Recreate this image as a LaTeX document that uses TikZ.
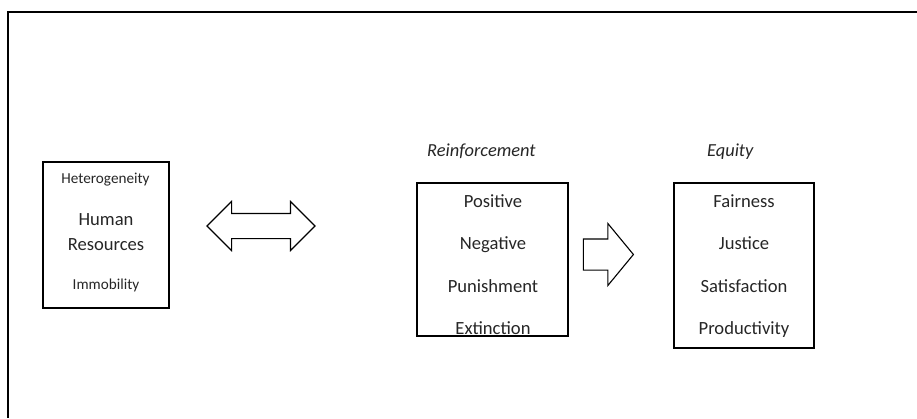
\documentclass[tikz,border=0pt]{standalone}
\usepackage{fontspec}
\setmainfont{Carlito}
\usetikzlibrary{shapes.arrows}

\begin{document}
\begin{tikzpicture}[x=1pt,y=-1pt,
    box/.style={draw,line width=1.6pt,inner sep=0pt},
    item/.style={anchor=base,inner sep=0pt,text=black!85,font=\fontsize{18.6}{22}\selectfont},
    small/.style={item,font=\fontsize{15.2}{18}\selectfont},
    title/.style={item,anchor=base west,font=\fontsize{18.4}{22}\selectfont\itshape},
    block/.style={draw,line width=1.1pt,inner xsep=0pt}]
    \useasboundingbox (0,0) rectangle (917,418);
    \draw[line width=1.3pt] (917,12) -- (8,12) -- (8,418);

    \node[box,minimum width=126pt,minimum height=146pt] (hr) at (106,235) {};
    \node[small] (het) at (105.5,183) {Heterogeneity};
    \node[item] (hum) at (106,225) {Human};
    \node[item] (res) at (106,250) {Resources};
    \node[small] (imm) at (106,289) {Immobility};

    \node[box,minimum width=151pt,minimum height=153pt] (rf) at (492.5,259.5) {};
    \node[title] (rft) at (427,156.5) {Reinforcement};
    \node[item] (pos) at (493,207) {Positive};
    \node[item] (neg) at (493,249.5) {Negative};
    \node[item] (pun) at (493,292) {Punishment};
    \node[item] (ext) at (493,334.5) {Extinction};

    \node[box,minimum width=140pt,minimum height=165pt] (eq) at (744,265.5) {};
    \node[title] (eqt) at (707,156.5) {Equity};
    \node[item] (fai) at (744,207) {Fairness};
    \node[item] (jus) at (744,249.5) {Justice};
    \node[item] (sat) at (744,292) {Satisfaction};
    \node[item] (pro) at (744,334.5) {Productivity};

    \node[block,double arrow,inner ysep=12pt,double arrow head extend=12pt,
          minimum height=108pt] (link) at (261,226) {};
    \node[block,single arrow,inner ysep=15pt,single arrow head extend=15.5pt,
          single arrow tip angle=101,minimum height=50pt] (lead) at (602,254.5) {};
\end{tikzpicture}
\end{document}
